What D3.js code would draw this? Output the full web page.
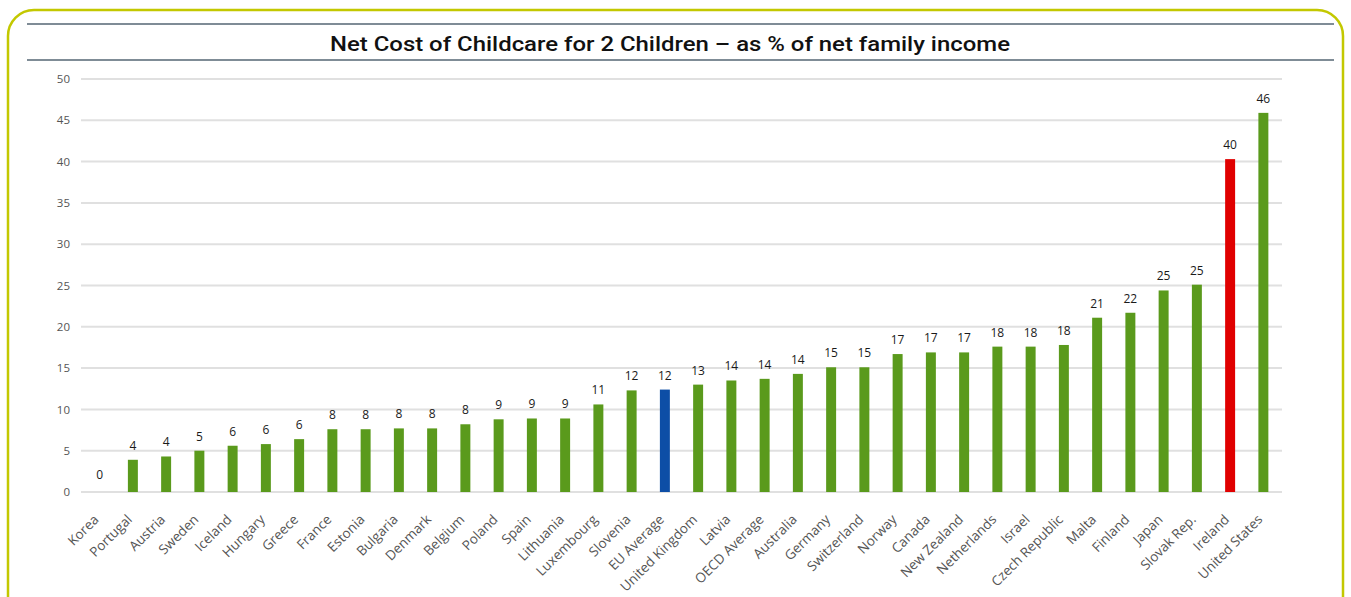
<!DOCTYPE html>
<html>
<head>
<meta charset="utf-8">
<script src="https://cdn.jsdelivr.net/npm/d3@7"></script>
<style>
  body { margin: 0; background: #fff; }
  svg { display: block; }
</style>
</head>
<body>
<svg width="1351" height="597"></svg>
<script>
var svg = d3.select("svg"),
  width = +svg.attr("width"),
  height = +svg.attr("height");

// Data
var countries = ["Korea", "Portugal", "Austria", "Sweden", "Iceland", "Hungary", "Greece", "France",
  "Estonia", "Bulgaria", "Denmark", "Belgium", "Poland", "Spain", "Lithuania", "Luxembourg",
  "Slovenia", "EU Average", "United Kingdom", "Latvia", "OECD Average", "Australia", "Germany",
  "Switzerland", "Norway", "Canada", "New Zealand", "Netherlands", "Israel", "Czech Republic",
  "Malta", "Finland", "Japan", "Slovak Rep.", "Ireland", "United States"];
var values = [0, 3.9, 4.3, 5.0, 5.6, 5.8, 6.4, 7.6, 7.6, 7.7, 7.7, 8.2, 8.8, 8.9, 8.9, 10.6,
  12.3, 12.4, 13.0, 13.5, 13.7, 14.3, 15.1, 15.1, 16.7, 16.9, 16.9, 17.6, 17.6, 17.8,
  21.1, 21.7, 24.4, 25.1, 40.3, 45.9];
var valueLabels = ["0", "4", "4", "5", "6", "6", "6", "8", "8", "8", "8", "8", "9", "9", "9", "11",
  "12", "12", "13", "14", "14", "14", "15", "15", "17", "17", "17", "18", "18", "18",
  "21", "22", "25", "25", "40", "46"];
var yTicks = [0, 5, 10, 15, 20, 25, 30, 35, 40, 45, 50];
var highlight = {"EU Average": "#0d4ea6", "Ireland": "#e00000"};

// frame
svg.append("rect")
  .attr("x", 8).attr("y", 10)
  .attr("width", 1335).attr("height", 640)
  .attr("rx", 26).attr("ry", 26)
  .attr("fill", "none")
  .attr("stroke", "#c3c800")
  .attr("stroke-width", 2.5);

// title bar
svg.append("line").attr("x1", 27).attr("x2", 1334).attr("y1", 24).attr("y2", 24)
  .attr("stroke", "#7f8c96").attr("stroke-width", 2);
svg.append("line").attr("x1", 27).attr("x2", 1334).attr("y1", 60).attr("y2", 60)
  .attr("stroke", "#7f8c96").attr("stroke-width", 2);
svg.append("text")
  .attr("x", 330).attr("y", 51)
  .attr("textLength", 680)
  .attr("lengthAdjust", "spacingAndGlyphs")
  .attr("font-family", "Roboto, 'Open Sans', sans-serif")
  .attr("font-weight", "500")
  .attr("font-size", "21px")
  .attr("fill", "#111")
  .text("Net Cost of Childcare for 2 Children \u2013 as % of net family income");

// scales
var x = d3.scaleBand()
  .domain(countries)
  .range([83, 1280])
  .paddingInner(0.7)
  .paddingOuter(0.35);

var y = d3.scaleLinear()
  .domain([0, 50])
  .range([492, 79]);

// grid
var grid = svg.append("g").attr("class", "grid");
grid.selectAll("line")
  .data(yTicks)
  .enter()
  .append("line")
    .attr("x1", 81).attr("x2", 1282)
    .attr("y1", d => y(d)).attr("y2", d => y(d))
    .attr("stroke", "#e0e0e0")
    .attr("stroke-width", 2);

// y axis labels
var yAxis = d3.axisLeft(y).tickValues(yTicks).tickSize(0).tickPadding(0);
var gy = svg.append("g")
  .attr("transform", "translate(70,0)")
  .call(yAxis);
gy.select(".domain").remove();
gy.selectAll("text")
  .attr("font-family", "'Open Sans', sans-serif")
  .attr("font-size", "11.5px")
  .attr("fill", "#555");

// bars
svg.append("g")
  .selectAll("rect")
  .data(countries)
  .enter()
  .append("rect")
    .attr("x", d => x(d))
    .attr("y", (d, i) => y(values[i]))
    .attr("width", x.bandwidth())
    .attr("height", (d, i) => y(0) - y(values[i]))
    .attr("fill", d => highlight[d] || "#5a9a1c");

// value labels
svg.append("g")
  .selectAll("text")
  .data(countries)
  .enter()
  .append("text")
    .attr("x", d => x(d) + x.bandwidth() / 2)
    .attr("y", (d, i) => y(values[i]) - (values[i] == 0 ? 13 : 10))
    .attr("text-anchor", "middle")
    .attr("font-family", "'Open Sans', sans-serif")
    .attr("font-size", "12px")
    .attr("fill", "#1a1a1a")
    .text((d, i) => valueLabels[i]);

// x axis labels
var xAxis = d3.axisBottom(x).tickSize(0).tickPadding(0);
var gx = svg.append("g")
  .attr("transform", "translate(0,509)")
  .call(xAxis);
gx.select(".domain").remove();
gx.selectAll("text")
  .attr("font-family", "'Open Sans', sans-serif")
  .attr("font-size", "13.5px")
  .attr("fill", "#555")
  .attr("text-anchor", "end")
  .attr("dx", "-8")
  .attr("dy", "8")
  .attr("transform", "rotate(-45)");
</script>
</body>
</html>
